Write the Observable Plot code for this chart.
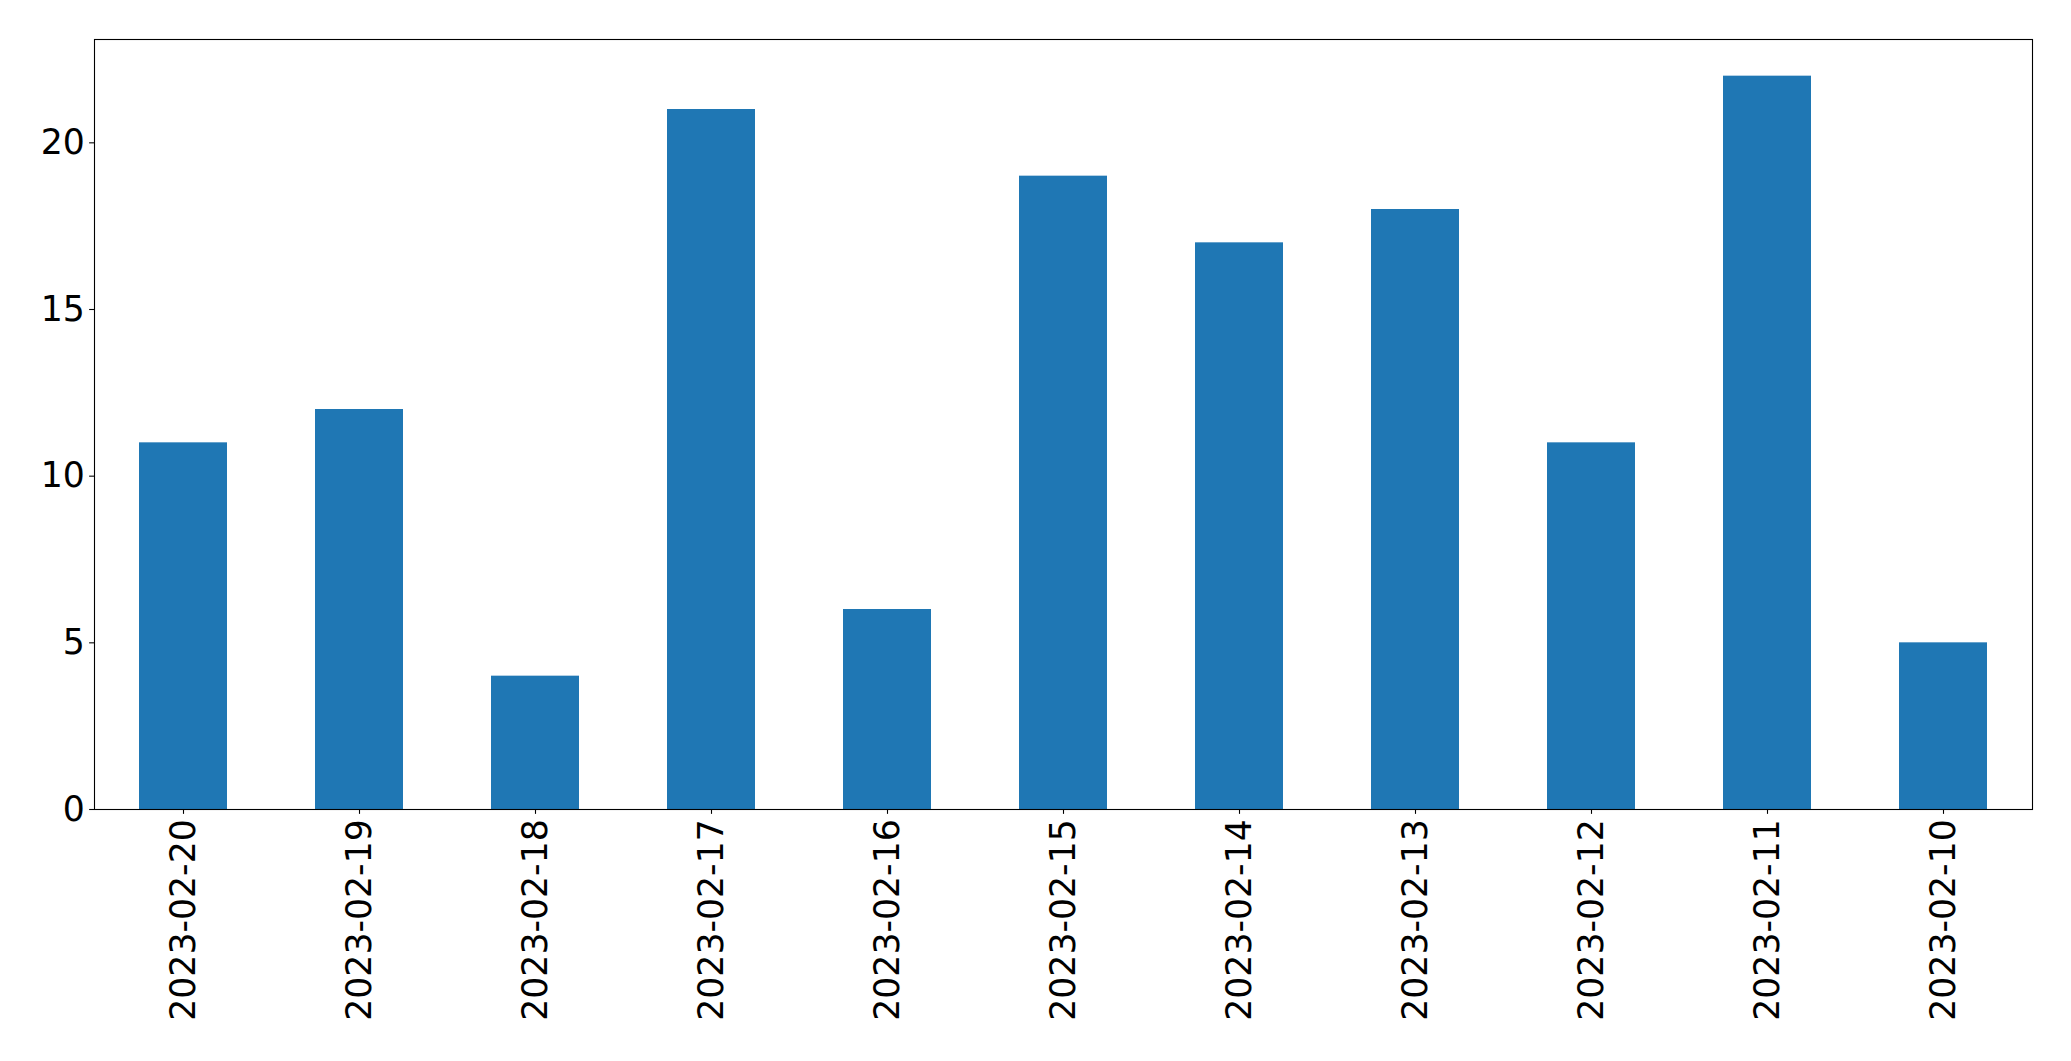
<!DOCTYPE html>
<html>
<head>
<meta charset="utf-8">
<script src="https://cdn.jsdelivr.net/npm/d3@7"></script>
<script src="https://cdn.jsdelivr.net/npm/@observablehq/plot@0.6"></script>
<style>
  html, body { margin: 0; padding: 0; background: #fff; }
</style>
</head>
<body>
<div id="chart"></div>
<script>
const dates = ["2023-02-20","2023-02-19","2023-02-18","2023-02-17","2023-02-16","2023-02-15","2023-02-14","2023-02-13","2023-02-12","2023-02-11","2023-02-10"];
const counts = [11, 12, 4, 21, 6, 19, 17, 18, 11, 22, 5];
const yTicks = [0, 5, 10, 15, 20];

const data = dates.map((d, i) => ({date: d, count: counts[i]}));
const fs = 34.7;

const chart = Plot.plot({
  width: 2071,
  height: 1061,
  marginLeft: 94,
  marginRight: 39,
  marginTop: 39,
  marginBottom: 252,
  style: {fontFamily: "DejaVu Sans", fontSize: fs + "px", background: "#fff", color: "#000"},
  x: {domain: dates, paddingInner: 0.5, paddingOuter: 0.25, align: 0.5, label: null},
  y: {domain: [0, 23.1], label: null},
  marks: [
    Plot.barY(data, {x: "date", y: "count", fill: "#1f77b4"}),
    Plot.axisY({ticks: yTicks, tickSize: 4.86, tickPadding: 4.86, fontSize: fs, label: null, stroke: "#000", strokeWidth: 1.1}),
    Plot.axisX({tickSize: 4.86, tickPadding: 4.86, tickRotate: -90, fontSize: fs, label: null, stroke: "#000", strokeWidth: 1.1}),
    Plot.frame({stroke: "#000", strokeWidth: 1.1})
  ]
});
document.getElementById("chart").appendChild(chart);
</script>
</body>
</html>
